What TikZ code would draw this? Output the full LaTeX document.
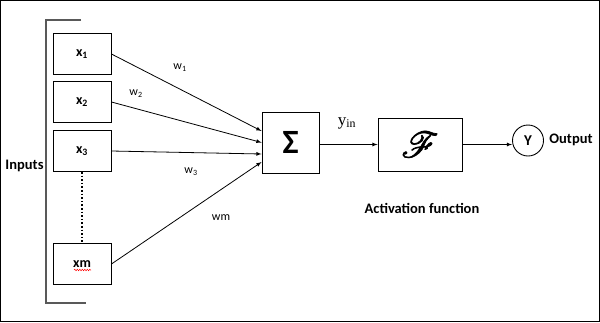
\documentclass[tikz,border=0pt]{standalone}
\usepackage{fontspec}
\setmainfont{Carlito}
\newfontfamily\timesfont{Liberation Serif}
\usepackage{mathrsfs}
\usetikzlibrary{decorations.pathmorphing}

\begin{document}
\begin{tikzpicture}[
    x=1pt, y=-1pt,
    >=latex,
    inbox/.style={
        draw, line width=0.9pt,
        minimum width=58pt, minimum height=41pt,
        font=\fontsize{14}{16}\selectfont\bfseries
    },
    block/.style={draw, line width=0.9pt},
    wlabel/.style={font=\fontsize{12}{14}\selectfont},
    biglabel/.style={font=\fontsize{14.5}{16}\selectfont\bfseries},
    link/.style={->, line width=0.8pt}
]

\useasboundingbox (0,0) rectangle (600,322);
\draw[line width=1pt] (0.5,0.5) rectangle (599.5,321.5);

% Input boxes
\node[inbox] (x1) at (82,54)  {x\textsubscript{1}};
\node[inbox] (x2) at (82,102) {x\textsubscript{2}};
\node[inbox] (x3) at (82,151) {x\textsubscript{3}};
\node[inbox] (xm) at (82,264) {xm};
\draw[red, line width=0.5pt, decorate,
      decoration={snake, amplitude=0.7pt, segment length=2.5pt}]
    ([shift={(-8,6)}]xm.center) -- ++(17,0);
\draw[dotted, line width=1.6pt] (x3.south) -- (xm.north);

% Bracket round the inputs
\draw[line width=1.2pt, gray!70!black] (81,20) -- (46,20) -- (46,303) -- (86,303);
\node[biglabel] (inputs) at (24.5,166) {Inputs};

% Summation, activation, output
\node[block, minimum width=57pt, minimum height=61pt,
      font=\fontsize{34}{36}\selectfont\bfseries] (sum) at (290.5,142.5) {Σ};
\node[block, minimum width=84pt, minimum height=53pt] (act) at (420,144.5)
    {\special{pdf:literal direct 2 Tr 0.5 w}%
     \scalebox{1.45}{\fontsize{24.88}{30}\selectfont$\mathscr{F}$}%
     \special{pdf:literal direct 0 Tr}};
\node[draw, circle, line width=0.9pt, minimum size=31pt, inner sep=0pt,
      font=\fontsize{15}{17}\selectfont\bfseries] (out) at (528,140.5) {Y};

% Weighted connections
\draw[link] (x1.east) -- ([yshift=11.5pt]sum.west);
\draw[link] (x2.east) -- (sum.west);
\draw[link] (x3.east) -- ([yshift=-11.5pt]sum.west);
\draw[link] (xm.east) -- ([yshift=-19.5pt]sum.west);
\node[wlabel] (w1) at (180,68)  {w\textsubscript{1}};
\node[wlabel] (w2) at (136,94)  {w\textsubscript{2}};
\node[wlabel] (w3) at (191,172) {w\textsubscript{3}};
\node[wlabel] (wm) at (221,218) {wm};

\draw[link] (sum.east |- act) -- (act.west);
\draw[link] (act.east) -- (act.east -| out.west);
\node[font=\timesfont\fontsize{17}{19}\selectfont] (yin) at (347,123) {y\textsubscript{in}};

\node[biglabel] (actlabel) at (422,208) {Activation function};
\node[biglabel] (outlabel) at (571,140) {Output};

\end{tikzpicture}
\end{document}
